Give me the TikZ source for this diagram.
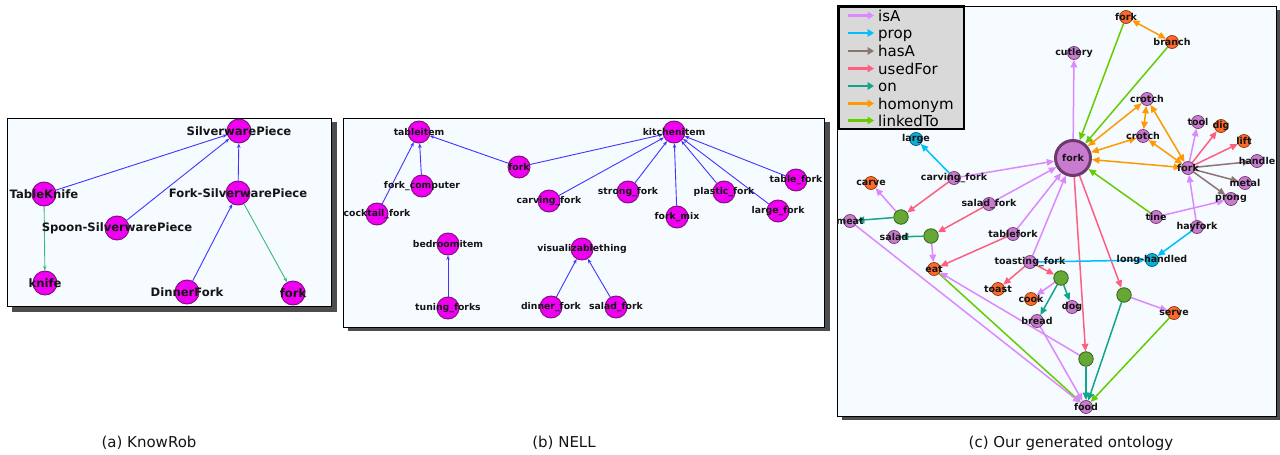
\documentclass[tikz,border=0pt]{standalone}
\usepackage{fontspec}
\setmainfont{DejaVu Sans}
\usetikzlibrary{arrows.meta}
\pgfdeclarelayer{frames}
\pgfdeclarelayer{edges}
\pgfsetlayers{frames,edges,main}
\definecolor{bgpanel}{HTML}{F5FBFF}
\definecolor{shadowc}{HTML}{4D4D4D}
\definecolor{magf}{HTML}{F000F0}
\definecolor{magd}{HTML}{7A107A}
\definecolor{blueA}{HTML}{4433FF}
\definecolor{greenA}{HTML}{3CB878}
\definecolor{purf}{HTML}{C97BCF}
\definecolor{purd}{HTML}{6E3A6E}
\definecolor{orf}{HTML}{FF6A2B}
\definecolor{ord}{HTML}{8A3A10}
\definecolor{cyf}{HTML}{0AAFD8}
\definecolor{cyd}{HTML}{005F7A}
\definecolor{grf}{HTML}{66A835}
\definecolor{grd}{HTML}{35601A}
\definecolor{cisA}{HTML}{DD88FF}
\definecolor{cprop}{HTML}{00BFFF}
\definecolor{chasA}{HTML}{8C7472}
\definecolor{cused}{HTML}{FF5E80}
\definecolor{con}{HTML}{12A58A}
\definecolor{chom}{HTML}{FF9900}
\definecolor{clink}{HTML}{66CC00}
\definecolor{legbg}{HTML}{D9D9D9}
\definecolor{txt}{HTML}{151515}
\begin{document}
\begin{tikzpicture}[x=1pt,y=-1pt,
  panelframe/.style={draw=black, fill=bgpanel, line width=1pt},
  shadowbox/.style={fill=shadowc, draw=none},
  lblA/.style={font=\bfseries\fontsize{11.6}{12}\selectfont, text=txt, inner sep=0},
  lblB/.style={font=\bfseries\fontsize{9.3}{10}\selectfont, text=txt, inner sep=0},
  lblC/.style={font=\bfseries\fontsize{9.5}{10}\selectfont, text=txt, inner sep=0},
  an/.style={circle, draw=magd, fill=magf, line width=0.9pt, minimum size=24pt, inner sep=0},
  bn/.style={circle, draw=magd, fill=magf, line width=0.9pt, minimum size=22pt, inner sep=0},
  pn/.style={circle, draw=purd, fill=purf, line width=0.7pt, minimum size=13pt, inner sep=0},
  orn/.style={circle, draw=ord, fill=orf, line width=0.7pt, minimum size=13pt, inner sep=0},
  cn/.style={circle, draw=cyd, fill=cyf, line width=0.7pt, minimum size=13pt, inner sep=0},
  gn/.style={circle, draw=grd, fill=grf, line width=0.8pt, minimum size=14.5pt, inner sep=0},
  bign/.style={circle, draw=purd, fill=purf, line width=3pt, minimum size=35pt, inner sep=0},
  ab/.style={draw=blueA, line width=0.9pt, -{Stealth[length=4.5pt,width=3.5pt]}},
  ag/.style={draw=greenA, line width=0.9pt, -{Stealth[length=4.5pt,width=3.5pt]}},
  ce/.style={line width=1.5pt},
  tipc/.style={-{Triangle[length=7.5pt,width=6.5pt]}},
  isA/.style={ce, draw=cisA, tipc},
  propr/.style={ce, draw=cprop, tipc},
  hasA/.style={ce, draw=chasA, tipc},
  used/.style={ce, draw=cused, tipc},
  onr/.style={ce, draw=con, tipc},
  hom/.style={ce, draw=chom, {Triangle[length=7.5pt,width=6.5pt]}-{Triangle[length=7.5pt,width=6.5pt]}},
  linkr/.style={ce, draw=clink, tipc},
  legtxt/.style={font=\fontsize{15}{16}\selectfont, text=black, inner sep=0, anchor=base west},
  legar/.style={line width=2.8pt, -{Triangle[length=6.5pt,width=7.5pt]}},
  captxt/.style={font=\fontsize{15}{16}\selectfont, text=txt, inner sep=0}
]
\useasboundingbox (0,0) rectangle (1280,455);

% ---------- frames ----------
\begin{pgfonlayer}{frames}
\fill[white] (0,0) rectangle (1280,455);
\fill[shadowbox] (12,122) rectangle (337,312);
\draw[panelframe] (7,118) rectangle (331,306);
\fill[shadowbox] (348,122) rectangle (830,331);
\draw[panelframe] (343,118) rectangle (824,327);
\fill[shadowbox] (842,10) rectangle (1280,420);
\draw[panelframe] (837,6) rectangle (1276,416);
\end{pgfonlayer}

% ---------- panel (a) ----------
\node[an,label={[lblA]center:SilverwarePiece}] (sp) at (239,131) {};
\node[an,label={[lblA]center:TableKnife}] (tk) at (44,194) {};
\node[an,label={[lblA]center:Fork-SilverwarePiece}] (fsp) at (238,193) {};
\node[an,label={[lblA]center:Spoon-SilverwarePiece}] (ssp) at (117,228) {};
\node[an,label={[lblA]center:knife}] (kn) at (45,283) {};
\node[an,label={[lblA]center:DinnerFork}] (df) at (187,292) {};
\node[an,label={[lblA]center:fork}] (fa) at (293,293) {};
\begin{pgfonlayer}{edges}
\draw[ab] (tk) -- (sp);
\draw[ab] (ssp) -- (sp);
\draw[ab] (fsp) -- (sp);
\draw[ab] (df) -- (fsp);
\draw[ag] (tk) -- (kn);
\draw[ag] (fsp) -- (fa);
\end{pgfonlayer}

% ---------- panel (b) ----------
\node[bn,label={[lblB]center:tableitem}] (ti) at (419,132) {};
\node[bn,label={[lblB]center:fork}] (fb) at (519,167) {};
\node[bn,label={[lblB]center:fork\_computer}] (fc) at (422,186) {};
\node[bn,label={[lblB]center:cocktail\_fork}] (cf) at (377,214) {};
\node[bn,label={[lblB]center:carving\_fork}] (cv) at (549,201) {};
\node[bn,label={[lblB]center:bedroomitem}] (bi) at (448,244) {};
\node[bn,label={[lblB]center:tuning\_forks}] (tf) at (448,308) {};
\node[bn,label={[lblB]center:dinner\_fork}] (dn) at (551,307) {};
\node[bn,label={[lblB]center:visualizablething}] (vt) at (582,249) {};
\node[bn,label={[lblB]center:kitchenitem}] (ki) at (674,132) {};
\node[bn,label={[lblB]center:strong\_fork}] (st) at (628,192) {};
\node[bn,label={[lblB]center:plastic\_fork}] (pf) at (724,192) {};
\node[bn,label={[lblB]center:table\_fork}] (tb) at (796,180) {};
\node[bn,label={[lblB]center:fork\_mix}] (fm) at (677,217) {};
\node[bn,label={[lblB]center:large\_fork}] (lf) at (778,211) {};
\node[bn,label={[lblB]center:salad\_fork}] (sf) at (616,307) {};
\begin{pgfonlayer}{edges}
\draw[ab] (cf) -- (ti);
\draw[ab] (fc) -- (ti);
\draw[ab] (fb) -- (ti);
\draw[ab] (fb) -- (ki);
\draw[ab] (cv) -- (ki);
\draw[ab] (st) -- (ki);
\draw[ab] (fm) -- (ki);
\draw[ab] (pf) -- (ki);
\draw[ab] (lf) -- (ki);
\draw[ab] (tb) -- (ki);
\draw[ab] (tf) -- (bi);
\draw[ab] (dn) -- (vt);
\draw[ab] (sf) -- (vt);
\end{pgfonlayer}

% ---------- panel (c) ----------
\node[orn,label={[lblC]center:fork}] (ftop) at (1126,17) {};
\node[orn,label={[lblC]center:branch}] (branch) at (1172,42) {};
\node[pn,label={[lblC]center:cutlery}] (cut) at (1074,53) {};
\node[pn,label={[lblC]center:crotch}] (cru) at (1147,99) {};
\node[pn,label={[lblC]center:crotch}] (crl) at (1143,136) {};
\node[pn,label={[lblC]center:tool}] (tool) at (1198,122) {};
\node[orn,label={[lblC]center:dig}] (dig) at (1221,126) {};
\node[orn,label={[lblC]center:lift}] (lift) at (1244,141) {};
\node[pn,label={[lblC]center:fork}] (fr) at (1188,168) {};
\node[pn,label={[lblC]center:handle}] (handle) at (1257,161) {};
\node[pn,label={[lblC]center:metal}] (metal) at (1245,183) {};
\node[pn,label={[lblC]center:prong}] (prong) at (1231,199) {};
\node[bign,label={[lblC]center:fork}] (big) at (1073,158) {};
\node[pn,label={[lblC]center:tine}] (tine) at (1156,217) {};
\node[pn,label={[lblC]center:hayfork}] (hay) at (1197,227) {};
\node[cn,label={[lblC]center:long-handled}] (longh) at (1152,260) {};
\node[cn,label={[lblC]center:large}] (large) at (916,139) {};
\node[pn,label={[lblC]center:carving\_fork}] (carv) at (954,178) {};
\node[orn,label={[lblC]center:carve}] (carve) at (871,183) {};
\node[gn] (g1) at (901,217) {};
\node[pn,label={[lblC]center:meat}] (meat) at (850,221) {};
\node[pn,label={[lblC]center:salad\_fork}] (saladf) at (989,204) {};
\node[gn] (g2) at (931,236) {};
\node[pn,label={[lblC]center:salad}] (salad) at (894,237) {};
\node[pn,label={[lblC]center:tablefork}] (tablef) at (1013,234) {};
\node[orn,label={[lblC]center:eat}] (eat) at (934,269) {};
\node[pn,label={[lblC]center:toasting\_fork}] (toastf) at (1030,262) {};
\node[gn] (g3) at (1061,278) {};
\node[orn,label={[lblC]center:toast}] (toast) at (998,289) {};
\node[orn,label={[lblC]center:cook}] (cook) at (1031,299) {};
\node[pn,label={[lblC]center:dog}] (dog) at (1072,307) {};
\node[pn,label={[lblC]center:bread}] (bread) at (1037,321) {};
\node[gn] (g4) at (1124,295) {};
\node[orn,label={[lblC]center:serve}] (serve) at (1174,313) {};
\node[gn] (g5) at (1086,359) {};
\node[pn,label={[lblC]center:food}] (food) at (1086,407) {};

\begin{pgfonlayer}{edges}
% homonym
\draw[hom] (ftop) -- (branch);
\draw[hom] (cru) -- (big);
\draw[hom] (cru) -- (crl);
\draw[hom] (cru) -- (fr);
\draw[hom] (crl) -- (big);
\draw[hom] (crl) -- (fr);
\draw[hom] (big) -- (fr);
% linkedTo
\draw[linkr] (ftop) -- (big);
\draw[linkr] (branch) -- (big);
\draw[linkr] (tine) -- (big);
\draw[linkr] (eat) -- (food);
\draw[linkr] (serve) -- (food);
% isA
\draw[isA] (big) -- (cut);
\draw[isA] (fr) -- (tool);
\draw[isA] (hay) -- (fr);
\draw[isA] (tine) -- (prong);
\draw[isA] (carv) -- (big);
\draw[isA] (saladf) -- (big);
\draw[isA] (tablef) -- (big);
\draw[isA] (toastf) -- (big);
\draw[isA] (g1) -- (carve);
\draw[isA] (g2) -- (eat);
\draw[isA] (meat) -- (food);
\draw[isA] (g5) -- (eat);
\draw[isA] (g3) -- (cook);
\draw[isA] (bread) -- (food);
\draw[isA] (g4) -- (serve);
% usedFor
\draw[used] (fr) -- (dig);
\draw[used] (fr) -- (lift);
\draw[used] (carv) -- (g1);
\draw[used] (saladf) -- (g2);
\draw[used] (tablef) -- (eat);
\draw[used] (toastf) -- (toast);
\draw[used] (toastf) -- (g3);
\draw[used] (big) -- (g4);
\draw[used] (big) -- (g5);
% hasA
\draw[hasA] (fr) -- (handle);
\draw[hasA] (fr) -- (metal);
\draw[hasA] (fr) -- (prong);
% prop
\draw[propr] (carv) -- (large);
\draw[propr] (hay) -- (longh);
\draw[propr] (toastf) -- (longh);
% on
\draw[onr] (g1) -- (meat);
\draw[onr] (g2) -- (salad);
\draw[onr] (g3) -- (dog);
\draw[onr] (g3) -- (bread);
\draw[onr] (g4) -- (food);
\draw[onr] (g5) -- (food);
\end{pgfonlayer}

% legend
\draw[fill=legbg, draw=black, line width=2.6pt] (838.3,6.3) rectangle (964,129);
\node[legtxt] (l1) at (878,21) {isA};
\node[legtxt] (l2) at (878,38.5) {prop};
\node[legtxt] (l3) at (878,56.5) {hasA};
\node[legtxt] (l4) at (878,74) {usedFor};
\node[legtxt] (l5) at (878,91.5) {on};
\node[legtxt] (l6) at (878,109) {homonym};
\node[legtxt] (l7) at (878,126) {linkedTo};
\draw[legar, cisA]  ([xshift=-30pt,yshift=5.5pt]l1.base west) -- ([xshift=-4pt,yshift=5.5pt]l1.base west);
\draw[legar, cprop] ([xshift=-30pt,yshift=5.5pt]l2.base west) -- ([xshift=-4pt,yshift=5.5pt]l2.base west);
\draw[legar, chasA] ([xshift=-30pt,yshift=5.5pt]l3.base west) -- ([xshift=-4pt,yshift=5.5pt]l3.base west);
\draw[legar, cused] ([xshift=-30pt,yshift=5.5pt]l4.base west) -- ([xshift=-4pt,yshift=5.5pt]l4.base west);
\draw[legar, con]   ([xshift=-30pt,yshift=5.5pt]l5.base west) -- ([xshift=-4pt,yshift=5.5pt]l5.base west);
\draw[legar, chom]  ([xshift=-30pt,yshift=5.5pt]l6.base west) -- ([xshift=-4pt,yshift=5.5pt]l6.base west);
\draw[legar, clink] ([xshift=-30pt,yshift=5.5pt]l7.base west) -- ([xshift=-4pt,yshift=5.5pt]l7.base west);

% captions
\node[captxt] (capa) at (149,443) {(a) KnowRob};
\node[captxt] (capb) at (564,443) {(b) NELL};
\node[captxt] (capc) at (1071,443) {(c) Our generated ontology};
\end{tikzpicture}
\end{document}
